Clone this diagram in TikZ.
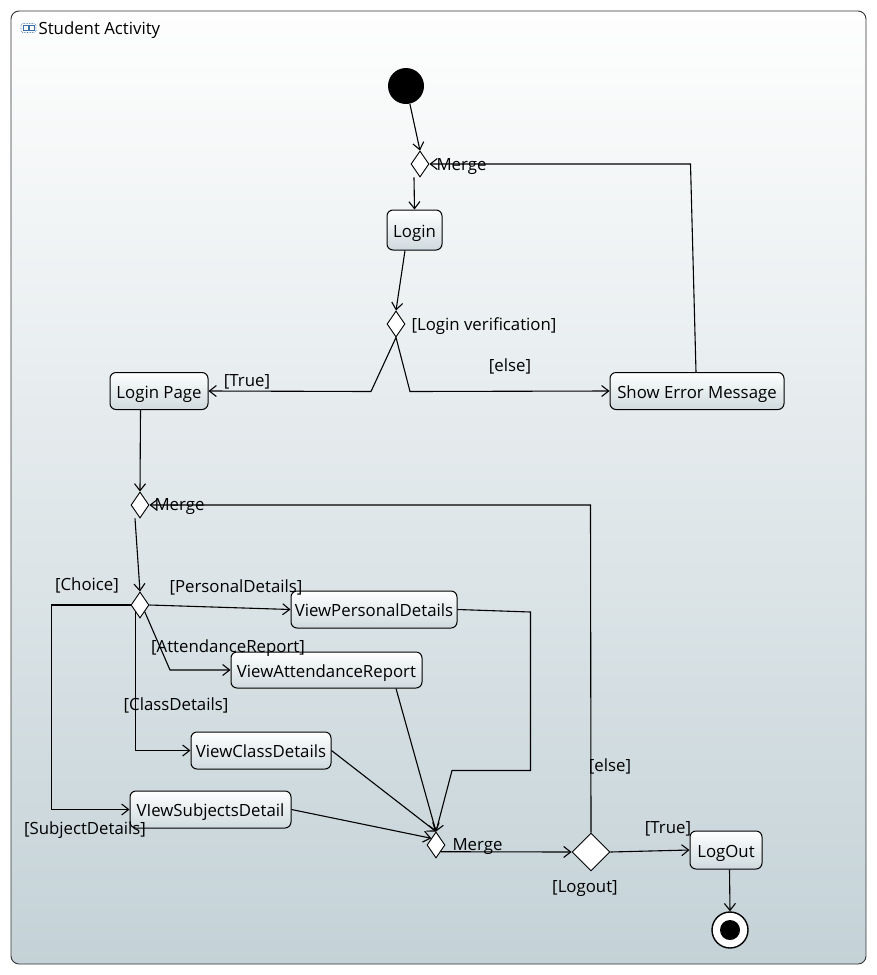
\documentclass[tikz,border=0pt]{standalone}
\usepackage{fontspec}
\setmainfont{Open Sans}
\usetikzlibrary{shapes.geometric,arrows.meta}
\definecolor{frametop}{HTML}{FEFEFE}
\definecolor{framebot}{HTML}{C4D2D7}
\definecolor{boxbot}{HTML}{CFDADE}
\definecolor{iconblue}{HTML}{3A6EA5}
\begin{document}
\begin{tikzpicture}[x=1pt,y=-1pt,
  font=\fontsize{16.8}{19}\selectfont,
  line width=1.1pt,
  >={Straight Barb[length=7pt,width=11pt]},
  flow/.style={->,draw=black},
  action/.style={draw=black,line width=1pt,rounded corners=6pt,
    top color=white,bottom color=boxbot,inner sep=0pt,align=center,
    text height=15pt,text depth=1pt},
  merge/.style={diamond,draw=black,fill=white,line width=0.9pt,inner sep=0pt,
    minimum width=18pt,minimum height=26pt},
  lbl/.style={inner sep=0pt,yshift=-2.5pt}]
\useasboundingbox (0,0) rectangle (877,975);
\fill[white] (0,0) rectangle (877,975);
% activity frame
\draw[draw=black!80,line width=0.9pt,rounded corners=8pt,top color=frametop,bottom color=framebot]
  (11,11) rectangle (866,964);
% frame icon and title
\draw[iconblue,line width=0.6pt,densely dotted,rounded corners=1.5pt] (21,23.5) rectangle (36,32.5);
\draw[iconblue,line width=0.6pt] (23.5,25.5) rectangle (28,30.5);
\draw[iconblue,line width=0.6pt] (29.5,25.5) rectangle (34,30.5);
\node[lbl,anchor=west] (title) at (38,28) {Student Activity};

% nodes
\node[circle,fill=black,minimum size=36pt,inner sep=0pt] (init) at (406,86) {};
\node[merge] (m1) at (420,164) {};
\node[action,minimum width=55pt,minimum height=40pt] (login) at (414.5,230) {Login};
\node[merge] (d1) at (396,324) {};
\node[action,minimum width=98pt,minimum height=37pt] (lp) at (159,391) {Login Page};
\node[action,minimum width=174pt,minimum height=37pt] (err) at (697,391) {Show Error Message};
\node[merge] (m2) at (140,505) {};
\node[merge] (ch) at (140,605) {};
\node[action,minimum width=166pt,minimum height=37pt] (vpd) at (374,609.5) {ViewPersonalDetails};
\node[action,minimum width=191pt,minimum height=36pt] (var) at (326.5,670) {ViewAttendanceReport};
\node[action,minimum width=140pt,minimum height=37pt] (vcd) at (261,750.5) {ViewClassDetails};
\node[action,minimum width=161pt,minimum height=37pt] (vsd) at (210.5,809.5) {VIewSubjectsDetail};
\node[merge] (m3) at (436,845) {};
\node[merge,minimum width=38pt,minimum height=38pt] (dl) at (591,852) {};
\node[action,minimum width=72pt,minimum height=38pt] (lo) at (726,850) {LogOut};
\node[circle,draw=black,fill=white,line width=1.4pt,minimum size=36pt,inner sep=0pt] (fin) at (730,930) {};
\node[circle,fill=black,minimum size=20pt,inner sep=0pt] (fincore) at (fin) {};

% connectors
\draw[flow] (init) -- (m1.north);
\draw[flow] ([xshift=-6pt]m1.south) -- (login.north);
\draw[flow] ([xshift=-9.5pt]login.south) -- (d1.north);
\draw[flow] (d1.south) -- (371,391.5) -- (lp.east);
\draw[flow] (d1.south) -- (410,391.5) -- (err.west);
\draw[flow] ([xshift=-1pt]err.north) -- (690.5,164) -- (m1.east);
\draw[flow] ([xshift=-18.5pt]lp.south) -- (m2.north);
\draw[flow] ([xshift=-5pt]m2.south) -- (ch.north);
\draw[flow] (dl.north) -- (590.5,505) -- (m2.east);
\draw[flow] (ch.east) -- (vpd.west);
\draw[flow] (ch.south east) -- (170,670) -- (var.west);
\draw[flow] (ch.south west) |- (vcd.west);
\draw[flow] (ch.west) -- (51.5,605) |- (vsd.west);
\draw[flow] (vpd.east) -- (530.5,612) -- (530.5,770.5) -- (452,770.5) -- (m3.north);
\draw[flow] ([xshift=69.5pt]var.south) -- (m3.north);
\draw[flow] (vcd.east) -- (m3.north);
\draw[flow] (vsd.east) -- (m3.north west);
\draw[flow] (m3.south east) -- (dl.west);
\draw[flow] (dl.east) -- (lo.west);
\draw[flow] ([xshift=3.5pt]lo.south) -- (fin.north);

% labels
\node[lbl,anchor=west] (lm1) at (436,164) {Merge};
\node[lbl,anchor=west] (ld1) at (411,324) {[Login verification]};
\node[lbl] (ltrue1) at (247,379) {[True]};
\node[lbl] (lelse1) at (510,364) {[else]};
\node[lbl,anchor=west] (lm2) at (154,504) {Merge};
\node[lbl] (lch) at (87,583) {[Choice]};
\node[lbl] (lpd) at (236,585) {[PersonalDetails]};
\node[lbl] (lar) at (228,646) {[AttendanceReport]};
\node[lbl] (lcd) at (176,703) {[ClassDetails]};
\node[lbl] (lsd) at (85,828) {[SubjectDetails]};
\node[lbl,anchor=west] (lm3) at (452,844) {Merge};
\node[lbl] (lelse2) at (610,764) {[else]};
\node[lbl] (ltrue2) at (668,826) {[True]};
\node[lbl] (llo) at (585,886) {[Logout]};
\end{tikzpicture}
\end{document}
